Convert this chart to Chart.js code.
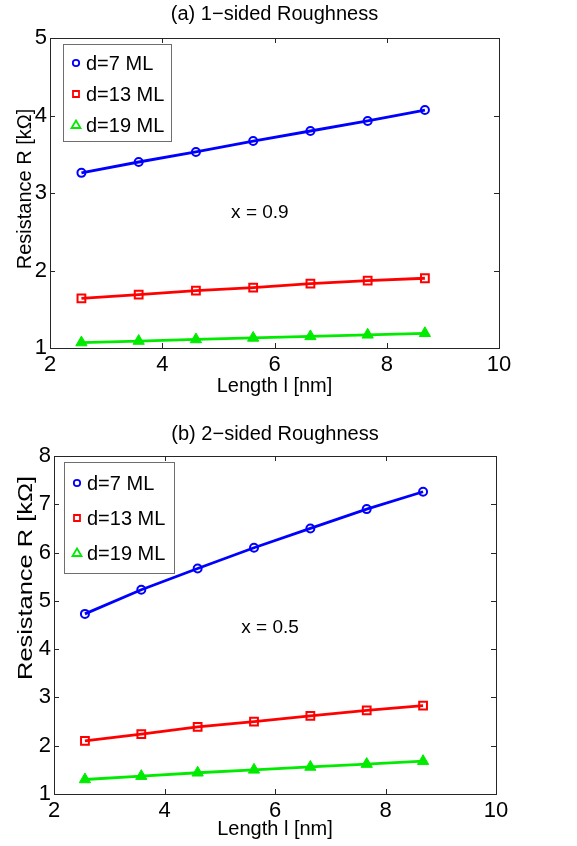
<!DOCTYPE html>
<html>
<head>
<meta charset="utf-8">
<title>Resistance vs Length</title>
<script src="https://cdn.jsdelivr.net/npm/chart.js@4.4.1/dist/chart.umd.min.js"></script>
<style>
  html, body { margin: 0; padding: 0; background: #fff; }
  .panel { position: absolute; left: 0; width: 577px; }
</style>
</head>
<body>
<div class="panel" style="top:0;height:420px"><canvas id="chartA" width="577" height="420"></canvas></div>
<div class="panel" style="top:420px;height:426px"><canvas id="chartB" width="577" height="426"></canvas></div>
<script>
// Longitudes (eje x) comunes a ambas gráficas
const lengths = [2.56, 3.58, 4.60, 5.62, 6.64, 7.66, 8.68];
const seriesLabels = ['d=7 ML', 'd=13 ML', 'd=19 ML'];
const xTicks = [2, 4, 6, 8, 10];

// (a) rugosidad de 1 lado, x = 0.9
const rOneSided7 = [3.26, 3.40, 3.53, 3.67, 3.80, 3.93, 4.07];
const rOneSided13 = [1.64, 1.69, 1.74, 1.78, 1.83, 1.87, 1.90];
const rOneSided19 = [1.07, 1.09, 1.11, 1.13, 1.15, 1.17, 1.19];
const yTicksA = [1, 2, 3, 4, 5];

// (b) rugosidad de 2 lados, x = 0.5
const rTwoSided7 = [4.73, 5.23, 5.67, 6.10, 6.50, 6.90, 7.26];
const rTwoSided13 = [2.10, 2.24, 2.39, 2.50, 2.62, 2.73, 2.83];
const rTwoSided19 = [1.30, 1.37, 1.44, 1.50, 1.56, 1.62, 1.68];
const yTicksB = [1, 2, 3, 4, 5, 6, 7, 8];

const FONT = '"Liberation Sans", Arial, Helvetica, sans-serif';
const BLUE = 'rgb(0,0,255)';
const RED = 'rgb(255,0,0)';
const GREEN = 'rgb(0,235,0)';

Chart.defaults.color = '#000';
Chart.defaults.font.family = FONT;

function toPoints(values) {
    return lengths.map((x, i) => ({ x: x, y: values[i] }));
}

// Marcador pequeño para la leyenda
function drawMarker(ctx, style, color, x, y) {
    ctx.save();
    ctx.strokeStyle = color;
    ctx.fillStyle = color;
    ctx.lineWidth = 1.8;
    ctx.beginPath();
    if (style === 'circle') {
        ctx.arc(x, y, 3.2, 0, Math.PI * 2);
        ctx.stroke();
    } else if (style === 'rect') {
        ctx.rect(x - 3, y - 3, 6, 6);
        ctx.stroke();
    } else {
        ctx.moveTo(x, y - 4.5);
        ctx.lineTo(x + 4.5, y + 3);
        ctx.lineTo(x - 4.5, y + 3);
        ctx.closePath();
        ctx.stroke();
    }
    ctx.restore();
}

// Marco estilo MATLAB, ticks hacia dentro, títulos, nota y leyenda
const matlabPlugin = {
    id: 'matlab',
    afterDraw(chart, args, opts) {
        const ctx = chart.ctx;
        const a = chart.chartArea;
        const xs = chart.scales.x;
        const ys = chart.scales.y;
        ctx.save();

        // marco
        ctx.strokeStyle = '#262626';
        ctx.lineWidth = 1;
        ctx.strokeRect(a.left + 0.5, a.top + 0.5, a.right - a.left, a.bottom - a.top);

        // ticks hacia dentro
        ctx.beginPath();
        xs.ticks.forEach(t => {
            const px = Math.round(xs.getPixelForValue(t.value)) + 0.5;
            ctx.moveTo(px, a.bottom); ctx.lineTo(px, a.bottom - 5);
            ctx.moveTo(px, a.top); ctx.lineTo(px, a.top + 5);
        });
        ys.ticks.forEach(t => {
            const py = Math.round(ys.getPixelForValue(t.value)) + 0.5;
            ctx.moveTo(a.left, py); ctx.lineTo(a.left + 5, py);
            ctx.moveTo(a.right, py); ctx.lineTo(a.right - 5, py);
        });
        ctx.stroke();

        // título
        ctx.fillStyle = '#000';
        ctx.font = '20px ' + FONT;
        ctx.textAlign = 'center';
        ctx.textBaseline = 'middle';
        ctx.fillText(opts.title, (a.left + a.right) / 2, opts.titleY);

        // título del eje y (girado; en (b) va estirado como en la figura)
        const yt = opts.yTitle;
        ctx.save();
        ctx.translate(yt.x, yt.y);
        ctx.rotate(-Math.PI / 2);
        ctx.scale(yt.stretch, 1);
        ctx.font = yt.size + 'px ' + FONT;
        ctx.fillText('Resistance R [kΩ]', 0, 0);
        ctx.restore();

        // nota x = ...
        ctx.font = '19px ' + FONT;
        ctx.fillText(opts.note.text, xs.getPixelForValue(opts.note.x), ys.getPixelForValue(opts.note.y));

        // leyenda
        const lg = opts.legend;
        const bx = a.left + lg.dx;
        const by = a.top + lg.dy;
        ctx.fillStyle = '#fff';
        ctx.fillRect(bx, by, lg.w, lg.h);
        ctx.strokeStyle = '#6e6e6e';
        ctx.strokeRect(bx + 0.5, by + 0.5, lg.w, lg.h);
        ctx.font = '20px ' + FONT;
        ctx.textAlign = 'left';
        chart.data.datasets.forEach((ds, i) => {
            const ry = by + lg.rows[i];
            drawMarker(ctx, ds.pointStyle, ds.borderColor, bx + lg.markerX, ry);
            ctx.fillStyle = '#000';
            ctx.fillText(ds.label, bx + lg.textX, ry + 1);
        });
        ctx.restore();
    }
};

function makeChart(canvasId, cfg) {
    return new Chart(document.getElementById(canvasId), {
        type: 'line',
        data: {
            datasets: [
                { label: seriesLabels[0], data: toPoints(cfg.series[0]), borderColor: BLUE, backgroundColor: 'transparent',
                  pointStyle: 'circle', pointRadius: 4, pointBorderWidth: 2, borderWidth: 2.8 },
                { label: seriesLabels[1], data: toPoints(cfg.series[1]), borderColor: RED, backgroundColor: 'transparent',
                  pointStyle: 'rect', pointRadius: 5.5, pointBorderWidth: 2, borderWidth: 2.8 },
                { label: seriesLabels[2], data: toPoints(cfg.series[2]), borderColor: GREEN, backgroundColor: GREEN,
                  pointStyle: 'triangle', pointRadius: 6.5, pointBorderWidth: 1, borderWidth: 2.8 }
            ]
        },
        options: {
            responsive: false,
            animation: false,
            devicePixelRatio: 1,
            layout: { padding: { top: cfg.top, right: cfg.right, left: 0, bottom: 0 } },
            scales: {
                x: {
                    type: 'linear',
                    min: xTicks[0],
                    max: xTicks[xTicks.length - 1],
                    afterBuildTicks: s => { s.ticks = xTicks.map(v => ({ value: v })); },
                    grid: { display: false, drawTicks: false },
                    border: { display: false },
                    ticks: { font: { size: 22 }, padding: 4, maxRotation: 0 },
                    title: { display: true, text: 'Length l [nm]', font: { size: 20 },
                             padding: { top: 0, bottom: cfg.xTitlePad } },
                    afterFit: s => { s.height = cfg.xHeight; }
                },
                y: {
                    type: 'linear',
                    min: cfg.yTicks[0],
                    max: cfg.yTicks[cfg.yTicks.length - 1],
                    afterBuildTicks: s => { s.ticks = cfg.yTicks.map(v => ({ value: v })); },
                    grid: { display: false, drawTicks: false },
                    border: { display: false },
                    ticks: { font: { size: 22 }, padding: 3 },
                    title: { display: false },
                    afterFit: s => { s.width = cfg.yWidth; }
                }
            },
            plugins: {
                legend: { display: false },
                tooltip: { enabled: false },
                matlab: {
                    title: cfg.title,
                    titleY: 14,
                    yTitle: cfg.yTitle,
                    note: cfg.note,
                    legend: cfg.legend
                }
            }
        },
        plugins: [matlabPlugin]
    });
}

makeChart('chartA', {
    series: [rOneSided7, rOneSided13, rOneSided19],
    yTicks: yTicksA,
    title: '(a) 1\u2212sided Roughness',
    note: { text: 'x = 0.9', x: 5.74, y: 2.75 },
    yTitle: { x: 25, y: 189, size: 20, stretch: 1 },
    top: 38, right: 78, xHeight: 72, xTitlePad: 22, yWidth: 50,
    legend: { dx: 13, dy: 6, w: 108, h: 97, rows: [19, 50, 81], markerX: 13, textX: 23 }
});

makeChart('chartB', {
    series: [rTwoSided7, rTwoSided13, rTwoSided19],
    yTicks: yTicksB,
    title: '(b) 2\u2212sided Roughness',
    note: { text: 'x = 0.5', x: 5.91, y: 4.44 },
    yTitle: { x: 26, y: 158, size: 20, stretch: 1.27 },
    top: 36, right: 81, xHeight: 52, xTitlePad: 5, yWidth: 54,
    legend: { dx: 10, dy: 6, w: 110, h: 111, rows: [21, 56, 91], markerX: 13, textX: 23 }
});
</script>
</body>
</html>
